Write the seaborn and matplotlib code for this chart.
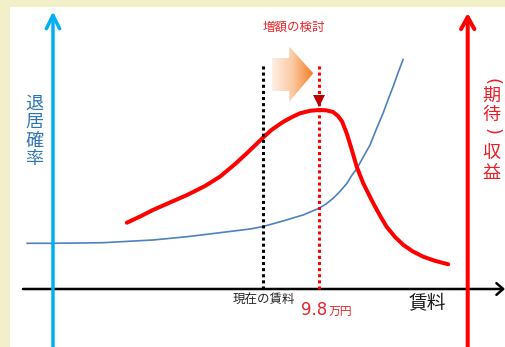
import numpy as np
import matplotlib
matplotlib.use("Agg")
import matplotlib.pyplot as plt
from matplotlib.colors import LinearSegmentedColormap
from matplotlib.patches import Rectangle, Polygon
import seaborn as sns

# 賃料（万円）と期待収益・退居確率の関係（概念図）
revenue_rent = [2.72, 3.21, 3.68, 4.31, 4.94, 5.60, 6.15, 6.71, 7.14, 7.75,
                8.07, 8.49, 8.81, 9.10, 9.47, 9.80, 10.06, 10.32, 10.50, 10.65,
                10.82, 11.01, 11.19, 11.43, 11.80, 12.05, 12.29, 12.60, 12.91, 13.26,
                13.64, 14.07, 14.56]
revenue_level = [124.3, 130.5, 137.0, 144.5, 152.0, 161.0, 170.3, 183.0, 193.7, 209.7,
                 217.5, 225.3, 230.0, 233.7, 236.2, 237.0, 236.7, 235.0, 231.0, 225.5,
                 213.7, 197.0, 180.3, 163.7, 143.7, 131.3, 120.3, 110.0, 102.0, 95.5,
                 90.3, 86.2, 82.7]

vacancy_rent = [-0.96, 0.00, 1.84, 3.68, 4.94, 6.15, 7.26, 7.74, 8.47, 9.21,
                9.80, 10.06, 10.32, 10.57, 10.83, 10.98, 11.20, 11.42, 11.68, 11.90,
                12.16, 12.34, 12.53, 12.71, 12.90]
vacancy_level = [103.7, 103.7, 104.3, 107.0, 110.3, 114.3, 118.0, 120.5, 126.0, 132.0,
                 138.7, 143.0, 148.7, 155.5, 163.7, 170.5, 178.7, 189.5, 202.0, 217.0,
                 233.7, 247.0, 260.3, 274.0, 287.7]

current_rent = 7.75
proposed_rent = 9.8
proposed_label = "9.8"

x_axis_label = "賃料"
left_axis_label = "退居確率"
right_axis_chars = ["(", "期", "待", ")", "収", "益"]
current_label = "現在の賃料"
review_label = "増額の検討"

# ---- canvas ----
W, H = 506, 347
PX_PER_UNIT = 27.143   # pixels per 万円
ORIGIN_PX = 53         # pixel column of rent = 0

sns.set_style("white")
plt.rcParams["font.family"] = ["Noto Sans CJK JP", "DejaVu Sans"]

fig = plt.figure(figsize=(W / 100, H / 100), dpi=100)
fig.patch.set_facecolor("#f2f0c9")
ax = fig.add_axes([0, 0, 1, 1])
ax.set_facecolor("none")
ax.set_axis_off()


def fx(px):
    return px / W


def fy(py):
    return 1 - py / H


# white panel
ax.add_patch(Rectangle((fx(10), 0), 1 - fx(10), fy(7), transform=ax.transAxes,
                       facecolor="white", edgecolor="none", zorder=0))

RED = "#ff0000"
BLUE_AXIS = "#00b0f0"
BLUE_LINE = "#4f81bd"
BASE_Y = 58
TOP_Y = 283

# curves
sns.lineplot(x=vacancy_rent, y=vacancy_level, ax=ax, color=BLUE_LINE,
             linewidth=1.2, zorder=3)
sns.lineplot(x=revenue_rent, y=revenue_level, ax=ax, color=RED,
             linewidth=2.9, zorder=4)

# dotted guides
ax.plot([current_rent, current_rent], [BASE_Y, TOP_Y], color="black",
        linestyle=(0, (1, 1)), linewidth=2.2, zorder=5)
ax.plot([proposed_rent, proposed_rent], [BASE_Y, TOP_Y], color=RED,
        linestyle=(0, (1, 1)), linewidth=2.2, zorder=5)

# peak marker
peak = int(np.argmax(revenue_level))
ax.plot(revenue_rent[peak], revenue_level[peak] + 8.7, marker="v",
        markersize=9.2, color="#c00000", markeredgewidth=0, zorder=6)

# axes with arrowheads
x_left = (23 - ORIGIN_PX) / PX_PER_UNIT
x_right = (505 - ORIGIN_PX) / PX_PER_UNIT
ax.annotate("", xy=(x_right, BASE_Y), xytext=(x_left, BASE_Y),
            arrowprops=dict(arrowstyle="->,head_length=0.24,head_width=0.21",
                            color="black", lw=1.8, mutation_scale=20,
                            shrinkA=0, shrinkB=0), zorder=2)
ax.annotate("", xy=(0, 335.5), xytext=(0, -5),
            arrowprops=dict(arrowstyle="->,head_length=0.48,head_width=0.24",
                            color=BLUE_AXIS, lw=2.5, mutation_scale=20,
                            shrinkA=0, shrinkB=0), zorder=7)
red_axis_x = (467.7 - ORIGIN_PX) / PX_PER_UNIT
ax.annotate("", xy=(red_axis_x, 334), xytext=(red_axis_x, -5),
            arrowprops=dict(arrowstyle="->,head_length=0.43,head_width=0.24",
                            color=RED, lw=2.9, mutation_scale=20,
                            shrinkA=0, shrinkB=0), zorder=7)

# orange gradient arrow
arrow_pts = [(272, 58), (289.3, 58), (289.3, 46.7), (313.3, 73.3),
             (289.3, 101.7), (289.3, 91), (272, 91)]
poly = Polygon([(fx(a), fy(b)) for a, b in arrow_pts], closed=True,
               transform=ax.transAxes, facecolor="none", edgecolor="none")
ax.add_patch(poly)
cmap = LinearSegmentedColormap.from_list("peach", ["#fdf0e6", "#fbc9a0", "#f37a1f"])
grad = np.linspace(0, 1, 256).reshape(1, -1)
im = ax.imshow(grad, cmap=cmap, extent=(fx(272), fx(313.5), fy(101.7), fy(46.7)),
               transform=ax.transAxes, aspect="auto", interpolation="bilinear",
               zorder=3)
im.set_clip_path(poly)

# labels
ax.text(fx(294), fy(27.5), review_label, transform=ax.transAxes, ha="center",
        va="center", color="#e8262a", fontsize=9)
ax.text(fx(264), fy(300), current_label, transform=ax.transAxes, ha="center",
        va="center", color="#262626", fontsize=9)
ax.text(fx(300.5), fy(315), proposed_label, transform=ax.transAxes, ha="left",
        va="baseline", color="#e8262a", fontsize=12, family="DejaVu Sans")
ax.text(fx(328.5), fy(315), "万円", transform=ax.transAxes, ha="left",
        va="baseline", color="#e8262a", fontsize=8.5)
ax.text(fx(427), fy(304), x_axis_label, transform=ax.transAxes, ha="center",
        va="center", color="#1a1a1a", fontsize=13.5)

for i, ch in enumerate(left_axis_label):
    ax.text(fx(34.5), fy(104 + 18.3 * i), ch, transform=ax.transAxes,
            ha="center", va="center", color="#2e75b6", fontsize=13)

# vertical right-hand label; brackets are turned to their vertical form
right_y = [82.0, 96.0, 115.0, 131.0, 153.3, 173.3]
for ch, yy in zip(right_axis_chars, right_y):
    if ch in "()":
        ax.text(fx(492), fy(yy), ch, transform=ax.transAxes, ha="center",
                va="center", color="#e8202a", fontsize=13, rotation=-90,
                family="DejaVu Sans")
    else:
        ax.text(fx(491.5), fy(yy), ch, transform=ax.transAxes, ha="center",
                va="center", color="#e8202a", fontsize=13)

ax.set_xlim(-ORIGIN_PX / PX_PER_UNIT, (W - ORIGIN_PX) / PX_PER_UNIT)
ax.set_ylim(0, H)

fig.savefig("out.png", dpi=100, facecolor=fig.get_facecolor())
